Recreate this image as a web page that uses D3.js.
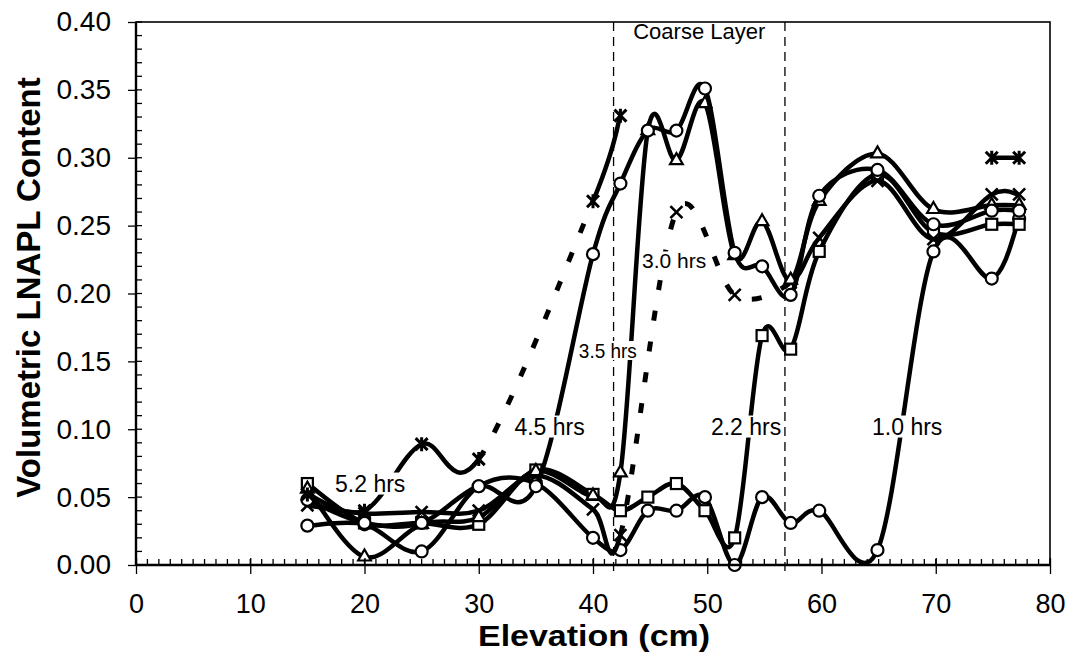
<!DOCTYPE html>
<html><head><meta charset="utf-8">
<script src="https://cdn.jsdelivr.net/npm/d3@7"></script>
<style>
body{margin:0;background:#fff}
svg{display:block}
text{font-family:"Liberation Sans",Arial,sans-serif;fill:#000}
</style>
</head><body>
<svg id="chart" width="1071" height="652"></svg>
<script>
// ---------------- data ----------------
const elevation = [15,20,25,30,35,40,42.4,44.8,47.3,49.8,52.4,54.8,57.3,59.8,64.9,69.8,74.9,77.3];
const hrs1_0 = [0.029,0.030,0.010,0.058,0.060,0.020,0.011,0.040,0.040,0.050,0.000,0.050,0.031,0.040,0.011,0.231,0.211,0.255];
const hrs2_2 = [0.060,0.031,0.031,0.030,0.070,0.052,0.040,0.050,0.060,0.040,0.020,0.169,0.159,0.231,0.288,0.245,0.251,0.251];
const hrs3_0 = [0.044,0.038,0.039,0.040,0.066,0.041,0.022,null,0.260,null,0.199,null,0.208,0.241,0.283,0.240,0.273,0.273];
const hrs3_5 = [0.056,0.006,0.030,0.035,0.069,0.051,0.068,0.320,0.298,0.340,0.228,0.253,0.210,0.268,0.303,0.262,0.265,0.265];
const hrs4_5 = [0.048,0.031,0.031,0.058,0.058,0.229,0.281,0.320,0.320,0.351,0.230,0.220,0.199,0.272,0.291,0.251,0.261,0.261];
const hrs5_2 = [0.052,0.040,0.089,0.078,null,0.268,0.331,null,null,null,null,null,null,null,null,null,null,null];
const starPair = [null,null,null,null,null,null,null,null,null,null,null,null,null,null,null,null,0.300,0.300];

const xTicks = [0,10,20,30,40,50,60,70,80];
const yTicks = [0,0.05,0.10,0.15,0.20,0.25,0.30,0.35,0.40];
const coarseLayer = [41.8, 56.8];
const labelNames = ["5.2 hrs","4.5 hrs","3.5 hrs","3.0 hrs","2.2 hrs","1.0 hrs"];
const labelElev  = [20.5, 36.2, 41.3, 47.1, 53.4, 67.5];
const labelValue = [0.060, 0.102, 0.158, 0.224, 0.102, 0.102];

const series = [
  {values: hrs1_0, marker: "circle"},
  {values: hrs2_2, marker: "square"},
  {values: hrs3_0, marker: "x"},
  {values: hrs3_5, marker: "triangle"},
  {values: hrs4_5, marker: "circle"},
  {values: hrs5_2, marker: "star"},
  {values: starPair, marker: "star"}
];

// ---------------- layout ----------------
const svg = d3.select("#chart");
const x = d3.scaleLinear().domain([0,80]).range([136,1050]);
const y = d3.scaleLinear().domain([0,0.4]).range([565,22]);

svg.selectAll("line.coarse").data(coarseLayer).join("line")
  .attr("x1", d=>x(d)).attr("x2", d=>x(d))
  .attr("y1", y(0.4)).attr("y2", y(0)+10)
  .attr("stroke","#000").attr("stroke-width",1.3).attr("stroke-dasharray","9,6");

svg.append("text").attr("x", x(d3.mean(coarseLayer))).attr("y", y(0.4)+17)
  .attr("text-anchor","middle").attr("font-size",22).text("Coarse Layer");

// ---------------- series ----------------
function catmullSegments(pts, gapFlags, g) {
  let i = 0;
  while (i < pts.length - 1) {
    const dashed = gapFlags[i];
    const p = d3.path();
    p.moveTo(pts[i][0], pts[i][1]);
    let j = i;
    while (j < pts.length - 1 && gapFlags[j] === dashed) {
      const p0 = pts[j-1] || pts[j], p1 = pts[j], p2 = pts[j+1], p3 = pts[j+2] || pts[j+1];
      p.bezierCurveTo(
        p1[0] + (p2[0]-p0[0])/6, p1[1] + (p2[1]-p0[1])/6,
        p2[0] - (p3[0]-p1[0])/6, p2[1] - (p3[1]-p1[1])/6,
        p2[0], p2[1]);
      j++;
    }
    g.append("path").attr("d", p.toString())
      .attr("fill","none").attr("stroke","#000")
      .attr("stroke-width", dashed ? 5 : 4.5)
      .attr("stroke-linejoin","round")
      .attr("stroke-dasharray", dashed ? "10,21" : null);
    i = j;
  }
}

function drawMarker(g, type, px, py) {
  const s = 6;
  if (type === "circle") {
    g.append("circle").attr("cx",px).attr("cy",py).attr("r",s)
      .attr("fill","#fff").attr("stroke","#000").attr("stroke-width",2.2);
  } else if (type === "square") {
    g.append("rect").attr("x",px-5.5).attr("y",py-5.5).attr("width",11).attr("height",11)
      .attr("fill","#fff").attr("stroke","#000").attr("stroke-width",2.2);
  } else if (type === "triangle") {
    g.append("path").attr("d", d3.symbol(d3.symbolTriangle, 70)())
      .attr("transform",`translate(${px},${py})`)
      .attr("fill","#fff").attr("stroke","#000").attr("stroke-width",2.2);
  } else {
    const p = d3.path();
    p.moveTo(px-s,py-s); p.lineTo(px+s,py+s);
    p.moveTo(px+s,py-s); p.lineTo(px-s,py+s);
    if (type === "star") { p.moveTo(px,py-s-1); p.lineTo(px,py+s+1); }
    g.append("path").attr("d",p.toString()).attr("fill","none")
      .attr("stroke","#000").attr("stroke-width", type==="star"?3:2.6);
  }
}

const plot = svg.append("g");
series.forEach(s => {
  const g = plot.append("g");
  const idx = s.values.map((v,i)=> v==null ? -1 : i).filter(i=>i>=0);
  const pts = idx.map(i => [x(elevation[i]), y(s.values[i])]);
  const gaps = idx.slice(0,-1).map((i,k) => idx[k+1] - i > 1);
  catmullSegments(pts, gaps, g);
  idx.forEach(i => drawMarker(g, s.marker, x(elevation[i]), y(s.values[i])));
});

// ---------------- axes ----------------
const axisG = svg.append("g");
axisG.append("rect").attr("x",x(0)).attr("y",y(0.4)).attr("width",x(80)-x(0)).attr("height",y(0)-y(0.4))
  .attr("fill","none").attr("stroke","#000").attr("stroke-width",1.6);
axisG.append("line").attr("x1",x(0)).attr("x2",x(80)).attr("y1",y(0)).attr("y2",y(0))
  .attr("stroke","#000").attr("stroke-width",2.4);
axisG.append("line").attr("x1",x(0)).attr("x2",x(0)).attr("y1",y(0)).attr("y2",y(0.4))
  .attr("stroke","#000").attr("stroke-width",2.4);

axisG.selectAll("line.xm").data(d3.range(0,81,1)).join("line")
  .attr("x1",d=>x(d)).attr("x2",d=>x(d)).attr("y1",y(0)).attr("y2",y(0)-6)
  .attr("stroke","#000").attr("stroke-width",1.3);
axisG.selectAll("line.ym").data(d3.range(0,41,1).map(d=>d/100)).join("line")
  .attr("x1",x(0)).attr("x2",x(0)+6).attr("y1",d=>y(d)).attr("y2",d=>y(d))
  .attr("stroke","#000").attr("stroke-width",1.3);

const xAxis = d3.axisBottom(x).tickValues(xTicks).tickSize(16).tickPadding(14).tickFormat(d3.format("d"));
const xa = axisG.append("g").attr("transform",`translate(0,${y(0)-7})`).call(xAxis);
xa.select(".domain").remove();
xa.selectAll(".tick line").attr("stroke-width",1.3);
xa.selectAll(".tick text").attr("font-size",27).attr("font-family","Liberation Sans, Arial, sans-serif")
  .attr("dy",null).attr("y",55);

const yAxis = d3.axisLeft(y).tickValues(yTicks).tickSize(8).tickPadding(17).tickFormat(d3.format(".2f"));
const ya = axisG.append("g").attr("transform",`translate(${x(0)},0)`).call(yAxis);
ya.select(".domain").remove();
ya.selectAll(".tick line").attr("stroke-width",1.3);
ya.selectAll(".tick text").attr("font-size",28).attr("font-family","Liberation Sans, Arial, sans-serif");

svg.append("text").attr("x", 594).attr("y", 645.5)
  .attr("text-anchor","middle").attr("font-size",29).attr("font-weight","bold")
  .attr("textLength",232).attr("lengthAdjust","spacingAndGlyphs")
  .text("Elevation (cm)");
svg.append("text").attr("transform",`translate(40,${(y(0)+y(0.4))/2 - 6}) rotate(-90)`)
  .attr("text-anchor","middle").attr("font-size",33).attr("font-weight","bold")
  .text("Volumetric LNAPL Content");

// ---------------- time labels ----------------
const lab = svg.append("g");
labelNames.forEach((t,i) => {
  const tx = lab.append("text").attr("x", x(labelElev[i])).attr("y", y(labelValue[i]))
    .attr("text-anchor","middle").attr("dominant-baseline","central")
    .attr("font-size", 23).text(t);
  if (t === "3.5 hrs") tx.attr("textLength",58).attr("lengthAdjust","spacingAndGlyphs").attr("font-size",21);
  if (t === "3.0 hrs") tx.attr("font-size",21);
  const b = tx.node().getBBox();
  lab.insert("rect","text").attr("x",b.x-2).attr("y",b.y+2).attr("width",b.width+4).attr("height",b.height-4)
    .attr("fill","#fff");
});
</script>
</body></html>
